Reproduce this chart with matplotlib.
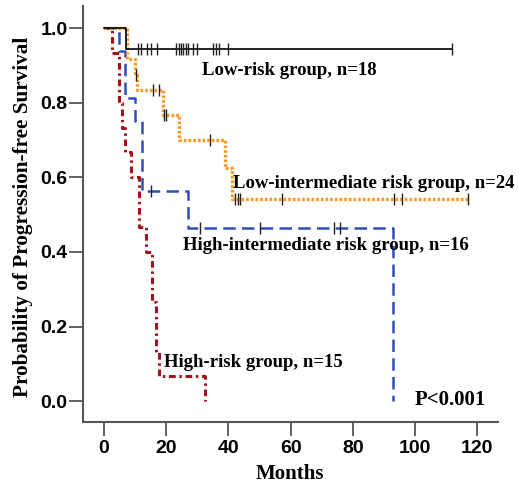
import numpy as np
import matplotlib
matplotlib.use("Agg")
import matplotlib.pyplot as plt

# Kaplan-Meier step data (months, survival probability)
low_t = [0, 7.0, 111.8]
low_s = [1.0, 0.944, 0.944]
low_cens = [11.0, 12.0, 14.0, 15.2, 17.2, 23.3, 24.0, 24.7, 25.5, 26.3, 27.0,
            28.7, 29.8, 35.1, 36.0, 37.0, 39.8, 111.8]

lowint_t = [0, 7.3, 10.0, 10.6, 18.9, 24.0, 39.0, 41.3, 117.0]
lowint_s = [1.0, 0.917, 0.875, 0.833, 0.767, 0.700, 0.624, 0.543, 0.543]
lowint_cens = [10.2, 15.8, 17.8, 19.4, 20.0, 34.0, 42.1, 43.1, 43.9, 57.1,
               93.2, 95.8, 117.0]

highint_t = [0, 4.8, 6.7, 10.0, 12.1, 27.1, 93.0]
highint_s = [1.0, 0.9375, 0.8125, 0.75, 0.5625, 0.463, 0.0]
highint_cens = [15.1, 30.8, 50.1, 73.9, 75.8]

high_t = [0, 2.5, 4.8, 5.7, 6.7, 8.7, 11.2, 13.7, 15.5, 16.9, 17.6, 32.6]
high_s = [1.0, 0.933, 0.80, 0.733, 0.667, 0.60, 0.467, 0.40, 0.267, 0.133,
          0.067, 0.0]
high_cens = []

labels = ["Low-risk group, n=18", "Low-intermediate risk group, n=24",
          "High-intermediate risk group, n=16", "High-risk group, n=15"]
label_pos = [(31.5, 0.887), (41.5, 0.584), (25.4, 0.418), (19.4, 0.105)]

x_ticks = [0, 20, 40, 60, 80, 100, 120]
y_ticks = [0.0, 0.2, 0.4, 0.6, 0.8, 1.0]

SERIF = ["Liberation Serif", "DejaVu Serif"]
SANS = ["Liberation Sans", "DejaVu Sans"]


def level_at(times, surv, t):
    idx = np.searchsorted(times, t, side="right") - 1
    return np.array(surv)[idx]


fig = plt.figure(figsize=(5.19, 4.86), dpi=100)
ax = fig.add_axes([0.1593, 0.1323, 0.800, 0.856])

groups = [
    (low_t, low_s, low_cens, dict(color="black", lw=1.2, ls="-")),
    (lowint_t, lowint_s, lowint_cens, dict(color="#f99a1f", lw=2.4, ls=(0, (0.8, 0.6)))),
    (highint_t, highint_s, highint_cens, dict(color="#2e4fb5", lw=1.8, ls=(0, (5, 2.5)))),
    (high_t, high_s, high_cens, dict(color="#a3141c", lw=2.2, ls=(0, (2.2, 1.2, 0.8, 1.2)))),
]

# draw from back to front like the original
for t, s, cens, style in reversed(groups):
    ax.step(t, s, where="post", zorder=2, **style)

for t, s, cens, style in groups:
    if cens:
        lv = [level_at(t, s, c) for c in cens]
        ax.plot(cens, lv, ls="none", marker="|", ms=9, mew=1.0,
                color="#222222", zorder=3)

for text, (x, y) in zip(labels, label_pos):
    ax.text(x, y, text, family=SERIF, fontweight="bold", fontsize=13.5,
            ha="left", va="center")

ax.text(99.9, 0.003, "P<0.001", family=SERIF, fontweight="bold",
        fontsize=15, ha="left", va="center")

ax.set_xlim(-6.8, 126.6)
ax.set_ylim(-0.055, 1.06)
ax.set_xticks(x_ticks)
ax.set_yticks(y_ticks)
ax.set_xticklabels([str(v) for v in x_ticks], family=SANS,
                   fontweight="bold", fontsize=14)
ax.set_yticklabels([f"{v:.1f}" for v in y_ticks], family=SANS,
                   fontweight="bold", fontsize=14)
ax.tick_params(axis="both", length=10, width=1.3, color="#555555")
ax.tick_params(axis="x", pad=3)
ax.tick_params(axis="y", pad=1)

for side in ["top", "right"]:
    ax.spines[side].set_visible(False)
for side in ["left", "bottom"]:
    ax.spines[side].set_color("#555555")
    ax.spines[side].set_linewidth(1.5)

ax.set_xlabel("Months", family=SERIF, fontweight="bold", fontsize=15)
ax.set_ylabel("Probability of Progression-free Survival", family=SERIF,
              fontweight="bold", fontsize=15.3)
ax.xaxis.label.set_va("baseline")
ax.yaxis.label.set_va("center")
ax.xaxis.set_label_coords(0.499, -0.138)
ax.yaxis.set_label_coords(-0.144, 0.492)

fig.savefig("out.png", dpi=100)
plt.close(fig)
